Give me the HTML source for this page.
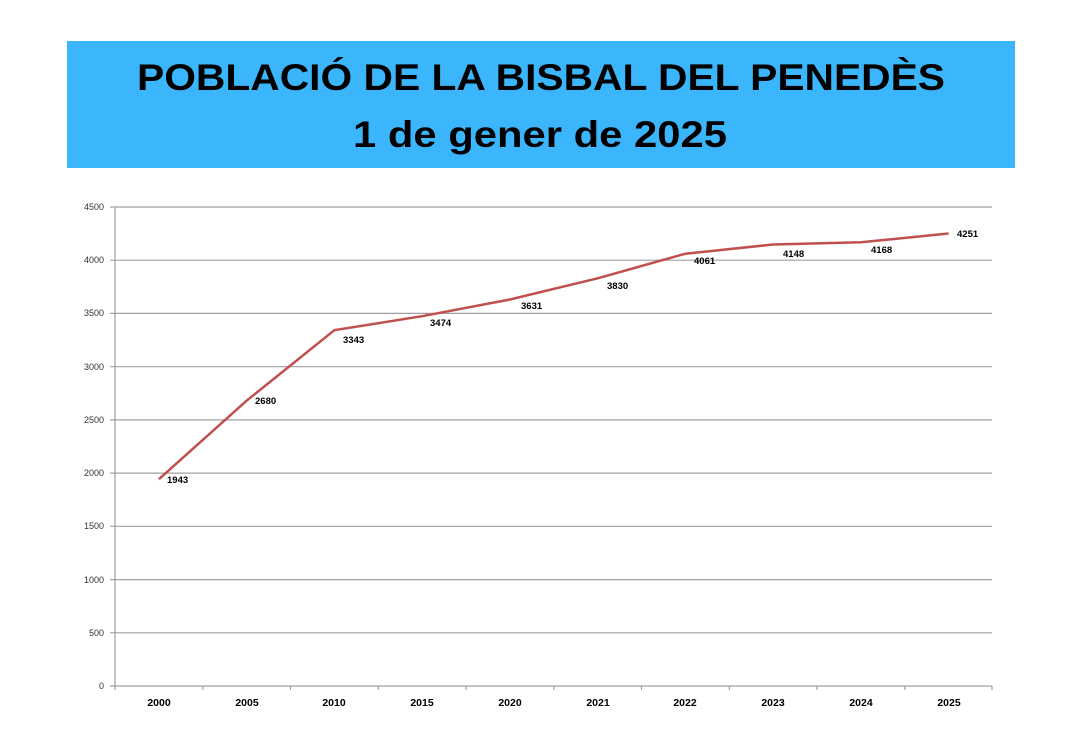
<!DOCTYPE html>
<html><head><meta charset="utf-8"><style>
html,body{margin:0;padding:0;background:#fff;}
svg{display:block;font-family:"Liberation Sans",sans-serif;}
</style></head><body>
<svg width="1080" height="739" viewBox="0 0 1080 739" xmlns="http://www.w3.org/2000/svg">
<rect x="0" y="0" width="1080" height="739" fill="#fff"/>
<rect x="67" y="41" width="948" height="127" fill="#3bb6fd"/>
<text x="541" y="90" text-anchor="middle" font-size="37" font-weight="bold" fill="#000" textLength="808" lengthAdjust="spacingAndGlyphs">POBLACIÓ DE LA BISBAL DEL PENEDÈS</text>
<text x="540" y="147" text-anchor="middle" font-size="37" font-weight="bold" fill="#000" textLength="374" lengthAdjust="spacingAndGlyphs">1 de gener de 2025</text>
<g stroke="#a0a0a0" stroke-width="1.2">
<line x1="110" y1="207" x2="992" y2="207"/>
<line x1="110" y1="260.2" x2="992" y2="260.2"/>
<line x1="110" y1="313.4" x2="992" y2="313.4"/>
<line x1="110" y1="366.7" x2="992" y2="366.7"/>
<line x1="110" y1="419.9" x2="992" y2="419.9"/>
<line x1="110" y1="473.1" x2="992" y2="473.1"/>
<line x1="110" y1="526.3" x2="992" y2="526.3"/>
<line x1="110" y1="579.6" x2="992" y2="579.6"/>
<line x1="110" y1="632.8" x2="992" y2="632.8"/>
<line x1="110" y1="686" x2="992" y2="686"/>
<line x1="115" y1="207" x2="115" y2="690"/>
<line x1="202.8" y1="686" x2="202.8" y2="690"/><line x1="290.5" y1="686" x2="290.5" y2="690"/><line x1="378.3" y1="686" x2="378.3" y2="690"/><line x1="466" y1="686" x2="466" y2="690"/><line x1="553.8" y1="686" x2="553.8" y2="690"/><line x1="641.5" y1="686" x2="641.5" y2="690"/><line x1="729.3" y1="686" x2="729.3" y2="690"/><line x1="817" y1="686" x2="817" y2="690"/><line x1="904.8" y1="686" x2="904.8" y2="690"/><line x1="992" y1="686" x2="992" y2="690"/>
</g>
<g font-size="9" fill="#333" text-anchor="end">
<text x="104" y="210">4500</text><text x="104" y="263">4000</text><text x="104" y="316">3500</text><text x="104" y="370">3000</text><text x="104" y="423">2500</text><text x="104" y="476">2000</text><text x="104" y="529">1500</text><text x="104" y="583">1000</text><text x="104" y="636">500</text><text x="104" y="689">0</text>
</g>
<g font-size="10.5" font-weight="bold" fill="#000" text-anchor="middle">
<text x="159" y="706">2000</text><text x="247" y="706">2005</text><text x="334" y="706">2010</text><text x="422" y="706">2015</text><text x="510" y="706">2020</text><text x="598" y="706">2021</text><text x="685" y="706">2022</text><text x="773" y="706">2023</text><text x="861" y="706">2024</text><text x="949" y="706">2025</text>
</g>
<polyline fill="none" stroke="#c0504d" stroke-width="2.5" points="158.9,479.2 246.6,400.7 334.4,330.2 422.1,316.2 509.9,299.5 597.6,278.3 685.4,253.7 773.1,244.5 860.9,242.3 948.6,233.5"/>
<g font-size="9.5" font-weight="bold" fill="#000">
<text x="167" y="483">1943</text><text x="255" y="404">2680</text><text x="343" y="343">3343</text><text x="430" y="326">3474</text><text x="521" y="309">3631</text><text x="607" y="289">3830</text><text x="694" y="264">4061</text><text x="783" y="257">4148</text><text x="871" y="253">4168</text><text x="957" y="237">4251</text>
</g>
</svg>
</body></html>
